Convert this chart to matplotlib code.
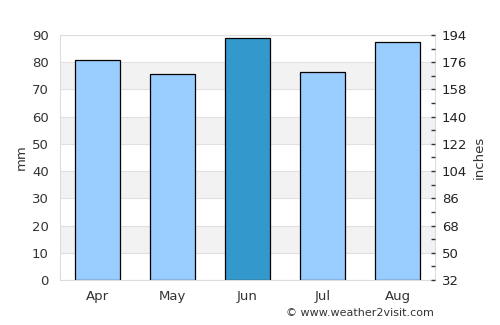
import matplotlib
matplotlib.use("Agg")
import matplotlib.pyplot as plt
from matplotlib.ticker import MultipleLocator, FixedLocator

months = ["Apr", "May", "Jun", "Jul", "Aug"]
rain_mm = [81.0, 75.5, 89.0, 76.5, 87.5]
highlight = "Jun"
left_ticks = list(range(0, 91, 10))
right_labels = ["32", "50", "68", "86", "104", "122", "140", "158", "176", "194"]

fig = plt.figure(figsize=(5, 3.25), dpi=100)
ax = fig.add_axes([0.12, 0.1385, 0.75, 0.7538])

# background bands
for lo in range(10, 90, 20):
    ax.axhspan(lo, lo + 10, color="#f2f2f2", zorder=0, lw=0)
for y in left_ticks:
    ax.axhline(y, color="#e0e0e0", lw=0.8, zorder=0.5)

colors = ["#3399cc" if m == highlight else "#99ccff" for m in months]
ax.bar(range(len(months)), rain_mm, width=0.6, color=colors, edgecolor="black", linewidth=0.9, zorder=2)

ax.set_xlim(-0.5, len(months) - 0.5)
ax.set_ylim(0, 90)
ax.set_xticks(range(len(months)))
ax.set_xticklabels(months)
ax.set_yticks(left_ticks)
ax.tick_params(axis="both", length=0, labelsize=9.5, labelcolor="#333333", pad=8)
ax.tick_params(axis="x", pad=7)
for s in ax.spines.values():
    s.set_color("#dddddd")
ax.set_ylabel("mm", fontsize=9.5, color="#333333", labelpad=3)

ax2 = ax.twinx()
ax2.set_ylim(0, 90)
ax2.yaxis.set_major_locator(FixedLocator(left_ticks))
ax2.set_yticklabels(right_labels)
ax2.yaxis.set_minor_locator(MultipleLocator(5))
ax2.tick_params(axis="y", which="both", direction="in", length=3, width=1, color="#333333",
                labelsize=9.5, labelcolor="#222222", pad=5)
for s in ax2.spines.values():
    s.set_visible(False)
ax2.set_ylabel("inches", fontsize=9.5, color="#333333", labelpad=4)

fig.text(0.868, 0.02, "© www.weather2visit.com", ha="right", va="bottom", fontsize=8, color="#333333")

fig.savefig("out.png", dpi=100)
